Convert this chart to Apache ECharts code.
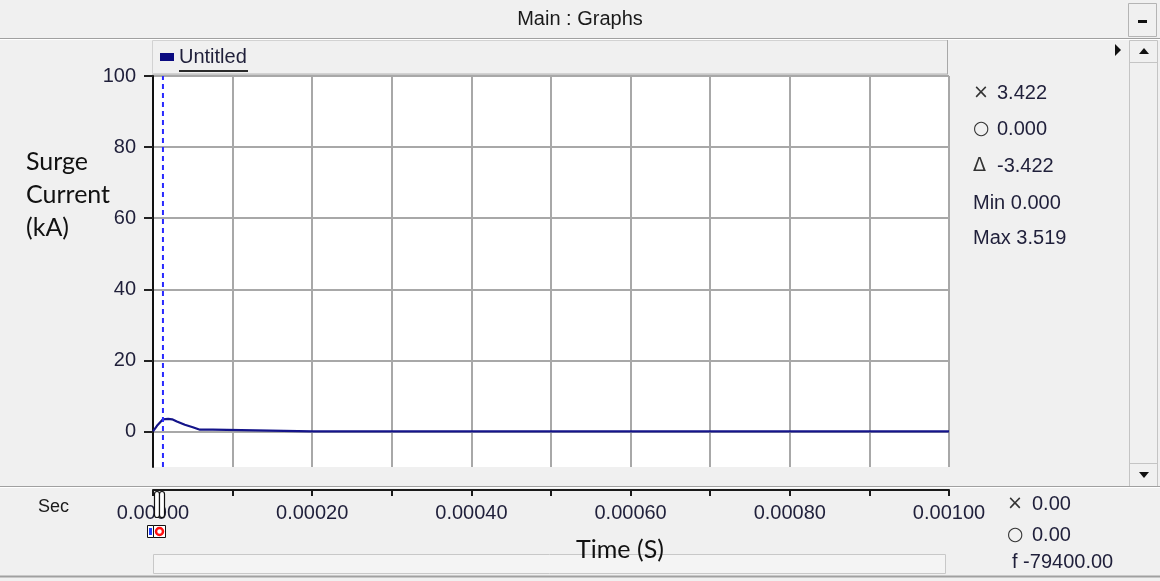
<!DOCTYPE html>
<html>
<head>
<meta charset="utf-8">
<title>Main : Graphs</title>
<script src="https://cdn.jsdelivr.net/npm/echarts@6/dist/echarts.min.js"></script>
<style>
  html, body { margin: 0; padding: 0; background: #f0f0f0; }
  #chart { width: 1160px; height: 581px; }
</style>
</head>
<body>
<div id="chart"></div>
<script>
// Surge current waveform (kA) against time (s)
const timeValues    = [0, 0.000005, 0.0000125, 0.000019, 0.000024, 0.00003, 0.00004, 0.00005, 0.000059, 0.000075, 0.000076, 0.0002, 0.0005, 0.001];
const currentValues = [0, 1.6,      3.422,     3.519,    3.4,      2.8,     1.9,     1.2,     0.5,      0.5,      0,        0,      0,      0];

const seriesName = 'Untitled';
const cursorTime = 0.0000125;
const currentRange = [-10, 100];

const yTickValues = [0, 20, 40, 60, 80, 100];
const xLabelValues = [0, 0.0002, 0.0004, 0.0006, 0.0008, 0.001];

const yAxisTitle = ['Surge', 'Current', '(kA)'];
const xAxisTitle = 'Time (S)';

// readout panel beside the plot: [symbol, value]
const cursorReadouts = [['×', '3.422'], ['○', '0.000'], ['Δ', '-3.422']];
const rangeReadouts = [['Min', '0.000'], ['Max', '3.519']];
// readout panel beside the time axis
const timeReadouts = [['×', '0.00'], ['○', '0.00'], ['f', '-79400.00']];

const UI_FONT = '"Liberation Sans", Arial, sans-serif';
const TITLE_FONT = 'Lato, "Open Sans", sans-serif';
const TEXT_COLOR = '#1f1f3a';
const GRID_COLOR = '#a8a8a8';

const PLOT_LEFT = 153, PLOT_TOP = 76, PLOT_W = 796, PLOT_H = 391;

const chart = echarts.init(document.getElementById('chart'), null, { renderer: 'canvas' });

function txt(text, x, y, opts) {
  return {
    type: 'text', silent: true, z: 30,
    style: Object.assign({
      text: text, x: x, y: y,
      font: '20px ' + UI_FONT, fill: TEXT_COLOR,
      textAlign: 'left', textVerticalAlign: 'middle'
    }, opts || {})
  };
}
function hline(x1, x2, y, color, w) {
  return { type: 'line', silent: true, shape: { x1: x1, y1: y, x2: x2, y2: y }, style: { stroke: color, lineWidth: w || 1 } };
}
function vline(x, y1, y2, color, w) {
  return { type: 'line', silent: true, shape: { x1: x, y1: y1, x2: x, y2: y2 }, style: { stroke: color, lineWidth: w || 1 } };
}
function tri(points, color) {
  return { type: 'polygon', silent: true, shape: { points: points }, style: { fill: color } };
}

const graphics = [];

// window title bar
graphics.push(txt('Main : Graphs', 580, 19, { textAlign: 'center', fill: '#1a1a1a' }));
graphics.push(hline(0, 1160, 38.5, '#a0a0a0'));
graphics.push(hline(0, 1160, 39.5, '#ffffff'));
graphics.push({ type: 'rect', silent: true, shape: { x: 1128.5, y: 3.5, width: 28, height: 33 }, style: { fill: '#f0f0f0', stroke: '#b4b4b4' } });
graphics.push({ type: 'rect', silent: true, shape: { x: 1138, y: 20, width: 9, height: 3 }, style: { fill: '#111' } });

// legend strip
graphics.push({ type: 'rect', silent: true, z: 0, shape: { x: 152.5, y: 40.5, width: 795, height: 33 }, style: { fill: '#f0f0f0', stroke: '#d2d2d2' } });
graphics.push(vline(947.5, 40, 74, '#a8a8a8'));
graphics.push(hline(152, 948, 74.5, '#c8c8c8'));
graphics.push(hline(179, 248, 71, '#2a2a2a', 2));
graphics.push(tri([[1115, 44], [1115, 56], [1121, 50]], '#111'));

// vertical scroll bar
graphics.push({ type: 'rect', silent: true, shape: { x: 1129.5, y: 40.5, width: 28, height: 446 }, style: { fill: '#f0f0f0', stroke: '#c4c4c4' } });
graphics.push(hline(1130, 1158, 62.5, '#c4c4c4'));
graphics.push(hline(1130, 1158, 463.5, '#c4c4c4'));
graphics.push(tri([[1139, 54], [1149, 54], [1144, 48]], '#111'));
graphics.push(tri([[1139, 472], [1149, 472], [1144, 478]], '#111'));

// axis titles
yAxisTitle.forEach(function (line, i) {
  graphics.push(txt(line, 26, 162 + i * 33, { font: '25px ' + TITLE_FONT, fill: '#111' }));
});
graphics.push(txt(xAxisTitle, 620, 550, { font: '25px ' + TITLE_FONT, fill: '#111', textAlign: 'center' }));

// readouts beside the plot
const readoutRows = [93, 129, 166, 203, 238];
cursorReadouts.forEach(function (r, i) {
  graphics.push(txt(r[0], 973, readoutRows[i], { fill: '#333', font: '19px "DejaVu Sans", sans-serif' }));
  graphics.push(txt(r[1], 997, readoutRows[i]));
});
rangeReadouts.forEach(function (r, i) {
  graphics.push(txt(r[0] + ' ' + r[1], 973, readoutRows[cursorReadouts.length + i]));
});

// divider between the plot panel and the time-axis panel
graphics.push(hline(0, 1160, 486.5, '#a0a0a0'));
graphics.push(hline(0, 1160, 487.5, '#ffffff'));
graphics.push(hline(0, 1160, 576.5, '#a0a0a0', 2));

// time-axis panel
graphics.push(txt('Sec', 38, 507, { fill: '#1a1a1a', font: '18px ' + UI_FONT }));
const timeRows = [504, 535, 562];
timeReadouts.forEach(function (r, i) {
  if (r[0] === 'f') {
    graphics.push(txt(r[0] + ' ' + r[1], 1012, timeRows[i]));
  } else {
    graphics.push(txt(r[0], 1007, timeRows[i], { fill: '#333', font: '19px "DejaVu Sans", sans-serif' }));
    graphics.push(txt(r[1], 1032, timeRows[i]));
  }
});

// horizontal scroll bar
graphics.push({ type: 'rect', silent: true, z: 1, shape: { x: 153.5, y: 554.5, width: 792, height: 19 }, style: { fill: '#f4f4f4', stroke: '#c8c8c8' } });
graphics.push(vline(173.5, 555, 573, '#c8c8c8'));
graphics.push(vline(926.5, 555, 573, '#c8c8c8'));
graphics.push(tri([[166, 558], [166, 570], [160, 564]], '#111'));
graphics.push(tri([[934, 558], [934, 570], [940, 564]], '#111'));

// cursor handles on the time axis
graphics.push({ type: 'rect', silent: true, z: 20, shape: { x: 154.5, y: 491.5, width: 5, height: 26, r: 2.5 }, style: { fill: '#fff', stroke: '#111', lineWidth: 1.2 } });
graphics.push({ type: 'rect', silent: true, z: 20, shape: { x: 159.5, y: 491.5, width: 5, height: 26, r: 2.5 }, style: { fill: '#fff', stroke: '#111', lineWidth: 1.2 } });
graphics.push({ type: 'rect', silent: true, z: 20, shape: { x: 147.5, y: 525.5, width: 6, height: 12 }, style: { fill: '#fff', stroke: '#111' } });
graphics.push({ type: 'rect', silent: true, z: 20, shape: { x: 149, y: 528, width: 3, height: 7 }, style: { fill: '#1e3cff' } });
graphics.push({ type: 'rect', silent: true, z: 20, shape: { x: 153.5, y: 525.5, width: 12, height: 12 }, style: { fill: '#fff', stroke: '#111' } });
graphics.push({ type: 'circle', silent: true, z: 21, shape: { cx: 159.5, cy: 531.5, r: 3.5 }, style: { fill: 'none', stroke: '#ff1010', lineWidth: 2.5 } });

const option = {
  backgroundColor: '#f0f0f0',
  animation: false,
  legend: {
    left: 160, top: 47, padding: 0,
    icon: 'rect', itemWidth: 14, itemHeight: 8,
    textStyle: { fontSize: 20, fontFamily: UI_FONT, color: TEXT_COLOR },
    data: [seriesName]
  },
  grid: [
    { left: PLOT_LEFT, top: PLOT_TOP, width: PLOT_W, height: PLOT_H, show: true, backgroundColor: '#ffffff', borderWidth: 0 },
    { left: PLOT_LEFT, top: 489, width: PLOT_W, height: 1, show: false }
  ],
  xAxis: [
    {
      gridIndex: 0, type: 'value', min: 0, max: 0.001, interval: 0.0001,
      axisLine: { show: false }, axisTick: { show: false }, axisLabel: { show: false },
      splitLine: { show: true, lineStyle: { color: GRID_COLOR, width: 2 } }
    },
    {
      gridIndex: 1, type: 'value', min: 0, max: 0.001, interval: 0.0001, position: 'bottom',
      axisLine: { show: true, onZero: false, lineStyle: { color: '#1a1a1a', width: 2 } },
      axisTick: { show: true, inside: false, length: 6, lineStyle: { color: '#1a1a1a', width: 2 } },
      axisLabel: {
        customValues: xLabelValues, margin: 13,
        fontSize: 20, fontFamily: UI_FONT, color: TEXT_COLOR,
        formatter: function (v) { return v.toFixed(5); }
      },
      splitLine: { show: false }
    }
  ],
  yAxis: [
    {
      gridIndex: 0, type: 'value', min: currentRange[0], max: currentRange[1],
      axisLine: { show: true, onZero: false, lineStyle: { color: '#111', width: 2 } },
      axisTick: { show: true, customValues: yTickValues, length: 9, lineStyle: { color: '#222', width: 2 } },
      axisLabel: { customValues: yTickValues, margin: 17, fontSize: 20, fontFamily: UI_FONT, color: TEXT_COLOR },
      splitLine: { show: true, lineStyle: { color: GRID_COLOR, width: 2 } }
    },
    { gridIndex: 1, type: 'value', show: false }
  ],
  series: [
    {
      name: seriesName, type: 'line', xAxisIndex: 0, yAxisIndex: 0,
      data: timeValues.map(function (t, i) { return [t, currentValues[i]]; }),
      showSymbol: false, symbol: 'none', z: 3,
      itemStyle: { color: '#0a0a80' },
      lineStyle: { color: '#14148a', width: 2.2 }
    },
    {
      // cursor position marker
      name: 'cursor', type: 'line', xAxisIndex: 0, yAxisIndex: 0,
      data: [[cursorTime, currentRange[0]], [cursorTime, currentRange[1]]],
      showSymbol: false, symbol: 'none', silent: true, z: 4,
      lineStyle: { color: '#2a2aff', type: [5, 4], width: 2 }
    }
  ],
  graphic: graphics
};

chart.setOption(option);
</script>
</body>
</html>
